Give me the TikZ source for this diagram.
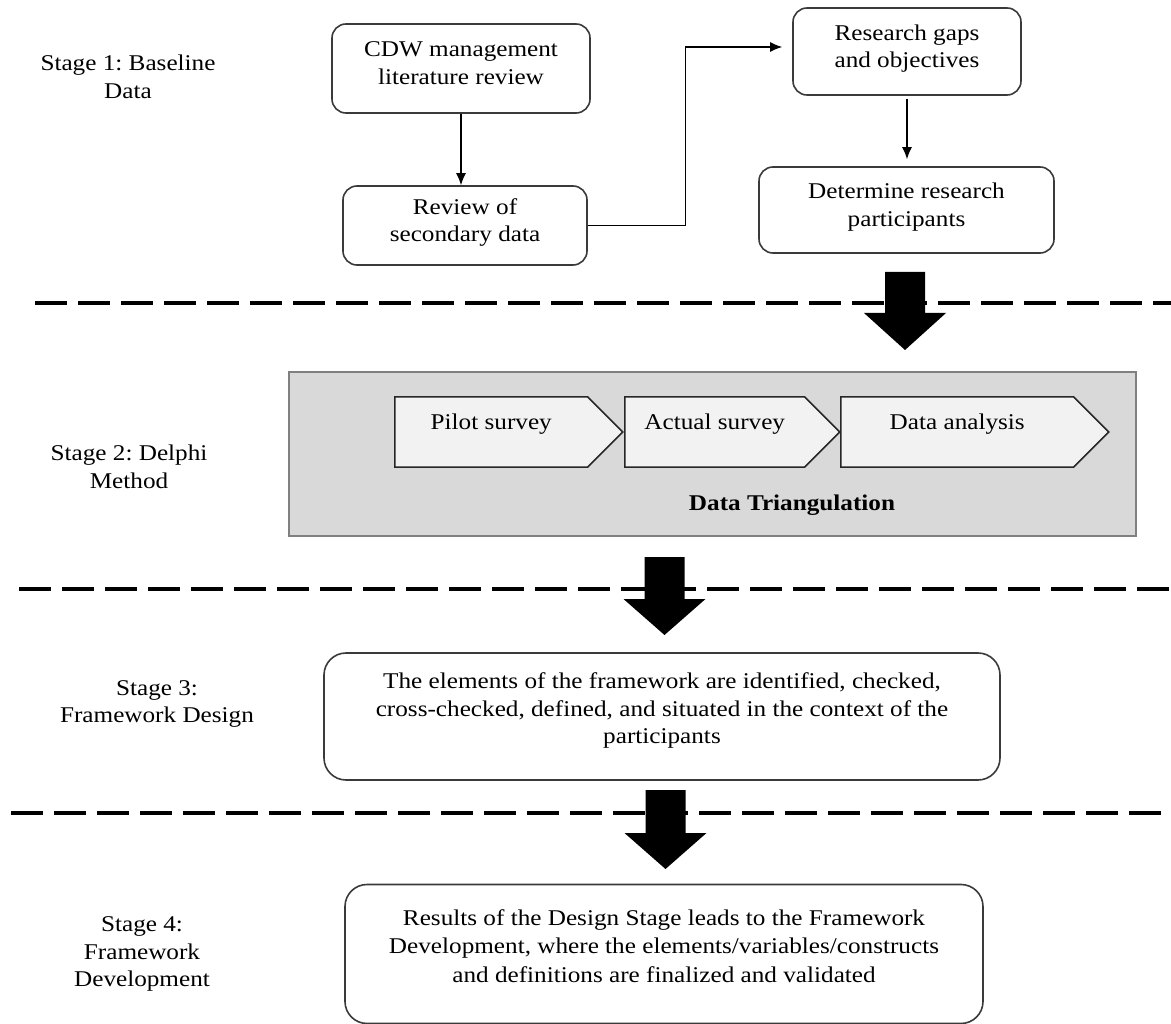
\documentclass[tikz,border=0pt]{standalone}
\usepackage{fontspec}
\setmainfont{Liberation Serif}[FakeStretch=1.12]
\usetikzlibrary{arrows.meta,shapes.symbols}

\definecolor{boxline}{HTML}{3A3A3A}
\definecolor{panelfill}{HTML}{D9D9D9}
\definecolor{panelline}{HTML}{808080}
\definecolor{chevfill}{HTML}{F2F2F2}

\frenchspacing

\begin{document}
\begin{tikzpicture}[x=1pt,y=-1pt,
  every node/.style={font=\fontsize{22.5}{27.5}\selectfont, align=center, inner sep=0pt},
  roundbox/.style={draw=boxline, line width=1.6pt, rounded corners=14pt, text depth=11pt},
  bigbox/.style={draw=boxline, line width=1.6pt, rounded corners=22pt, text depth=16pt},
  chev/.style={shape=signal, signal to=east, signal pointer angle=90, draw=black!85, line width=1.5pt, fill=chevfill, text height=16pt, text depth=20pt},
  flow/.style={-{Latex[length=12pt,width=10pt]}, line width=1.3pt},
  sep/.style={line width=4pt, dash pattern=on 32pt off 11pt}]
  \useasboundingbox (0,0) rectangle (1171,1024);

  \node (st1) at (128,77) {Stage 1: Baseline\\Data};
  \node (st2) at (129,467) {Stage 2: Delphi\\Method};
  \node (st3) at (157,704) {Stage 3:\\Framework Design};
  \node (st4) at (142,954) {Stage 4:\\Framework\\Development};

  \node[roundbox, minimum width=258, minimum height=89] (cdw) at (461,68.5) {CDW management\\literature review};
  \node[roundbox, minimum width=244, minimum height=79] (review) at (465,225.5) {Review of\\secondary data};
  \node[roundbox, minimum width=228, minimum height=87] (gaps) at (907,51.5) {Research gaps\\and objectives};
  \node[roundbox, minimum width=295, minimum height=86] (part) at (906.5,210) {Determine research\\participants};
  \draw[flow] (cdw.south) -- (cdw.south |- review.north);
  \draw[flow] (review.east) -- ++(98,0) |- ([xshift=-10pt,yshift=4.5pt]gaps.west);
  \draw[flow, shorten <=3pt, shorten >=7pt] (gaps.south) -- (gaps.south |- part.north);

  \draw[sep] (35,303) -- (1171,303);
  \draw[sep] (19,589) -- (1171,589);
  \draw[sep] (11,813) -- (1171,813);

  \foreach \bx/\by/\bh/\bt in {905/272/313/350, 664.5/557/599/635, 665.5/790/833/869}
    \fill (\bx-20,\by) -- (\bx+20,\by) -- (\bx+20,\bh) -- (\bx+41,\bh) -- (\bx,\bt) -- (\bx-41,\bh) -- (\bx-20,\bh) -- cycle;

  \node[draw=panelline, fill=panelfill, line width=1.5pt, minimum width=847, minimum height=164] (panel) at (712.5,454) {};
  \node[chev, minimum width=228, minimum height=70, anchor=west] (pilot) at (394,432) {Pilot survey};
  \node[chev, minimum width=215, minimum height=70, anchor=west] (actual) at (624,432) {Actual survey};
  \node[chev, minimum width=268, minimum height=70, anchor=west] (analysis) at (840,432) {Data analysis};
  \node[font=\fontsize{22.5}{27.5}\selectfont\bfseries] (tri) at (792,505) {Data Triangulation};

  \node[bigbox, minimum width=676, minimum height=127] (design) at (662,716.5) {The elements of the framework are identified, checked,\\cross-checked, defined, and situated in the context of the\\participants};
  \node[bigbox, minimum width=638, minimum height=139, font=\fontsize{22.5}{28.5}\selectfont] (develop) at (664,954) {Results of the Design Stage leads to the Framework\\Development, where the elements/variables/constructs\\and definitions are finalized and validated};
\end{tikzpicture}
\end{document}
